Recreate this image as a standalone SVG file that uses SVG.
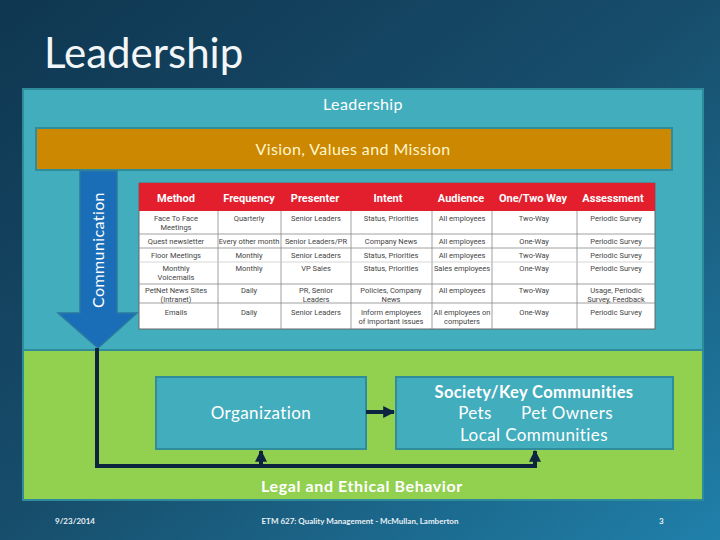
<svg xmlns="http://www.w3.org/2000/svg" width="720" height="540" viewBox="0 0 720 540">
<defs>
<linearGradient id="bg" x1="0" y1="0" x2="1" y2="1">
<stop offset="0" stop-color="#0f3650"/>
<stop offset="0.5" stop-color="#174e6c"/>
<stop offset="1" stop-color="#2080aa"/>
</linearGradient>
<marker id="ah" viewBox="0 0 10 10" refX="9" refY="5" markerWidth="3" markerHeight="3" orient="auto">
<path d="M0,0 L10,5 L0,10 z" fill="#0d2440"/>
</marker>
<style>
.t{font-family:Lato,"Open Sans","Liberation Sans",sans-serif;fill:#ffffff;text-anchor:middle;font-size:16px;letter-spacing:0.4px}
.hd{font-family:Roboto,"Liberation Sans",sans-serif;font-weight:bold;font-size:11px;fill:#ffffff;text-anchor:middle}
.cell{font-family:Roboto,"Liberation Sans",sans-serif;font-size:7.5px;fill:#444;text-anchor:middle}
.grid{stroke:#888;stroke-width:0.8}
.box{fill:#42adbd;stroke:#2f8c9a;stroke-width:2}
.conn{fill:none;stroke:#0d2440;stroke-width:4}
.ft{font-family:Lato,"Open Sans","Liberation Sans",sans-serif;font-weight:bold;font-size:8px;fill:#e8f0f4}
</style>
</defs>
<rect width="720" height="540" fill="url(#bg)"/>
<text x="44" y="68" font-family="Lato,'Open Sans','Liberation Sans',sans-serif" font-size="42" fill="#f2f6f8">Leadership</text>

<g id="leadership">
<rect x="23" y="89" width="680" height="262" fill="#42adbd" stroke="#2f8c9a" stroke-width="2"/>
<text class="t" x="363" y="110">Leadership</text>
</g>
<g id="legal">
<rect x="23" y="350" width="680" height="150" fill="#92d050" stroke="#2f8c9a" stroke-width="2"/>
<text class="t" x="362" y="492" font-weight="bold" style="letter-spacing:0.6px">Legal and Ethical Behavior</text>
</g>
<g id="vision">
<rect x="36" y="128" width="636" height="42" fill="#cc8800" stroke="#2f8c9a" stroke-width="2"/>
<text class="t" x="353" y="155" style="fill:#fff6cc">Vision, Values and Mission</text>
</g>
<g id="communication">
<path d="M80,171 L117,171 L117,313 L137,313 L98,348 L58,313 L80,313 Z" fill="#1a6eb8" stroke="#2a7aa0" stroke-width="1.5"/>
<text class="t" x="0" y="0" transform="translate(104,250) rotate(-90)">Communication</text>
</g>

<g id="table">
<rect x="139" y="183" width="516" height="146" fill="#ffffff" stroke="#666" stroke-width="1"/>
<rect x="139" y="183" width="516" height="28" fill="#e31e2d"/>
<g class="grid">
<line x1="218" y1="211" x2="218" y2="329"/>
<line x1="281" y1="211" x2="281" y2="329"/>
<line x1="351" y1="211" x2="351" y2="329"/>
<line x1="432" y1="211" x2="432" y2="329"/>
<line x1="492" y1="211" x2="492" y2="329"/>
<line x1="577" y1="211" x2="577" y2="329"/>
<line x1="139" y1="234" x2="655" y2="234"/>
<line x1="139" y1="248" x2="655" y2="248"/>
<line x1="139" y1="262" x2="655" y2="262" stroke="#ccc"/>
<line x1="139" y1="284" x2="655" y2="284"/>
<line x1="139" y1="303" x2="655" y2="303"/>
</g>
<text class="hd" x="176" y="202">Method</text>
<text class="hd" x="249" y="202">Frequency</text>
<text class="hd" x="315" y="202">Presenter</text>
<text class="hd" x="388" y="202">Intent</text>
<text class="hd" x="461" y="202">Audience</text>
<text class="hd" x="533" y="202">One/Two Way</text>
<text class="hd" x="613" y="202">Assessment</text>

<text class="cell" x="176" y="221">Face To Face</text>
<text class="cell" x="176" y="230">Meetings</text>
<text class="cell" x="249" y="221">Quarterly</text>
<text class="cell" x="316" y="221">Senior Leaders</text>
<text class="cell" x="391" y="221">Status, Priorities</text>
<text class="cell" x="462" y="221">All employees</text>
<text class="cell" x="534" y="221">Two-Way</text>
<text class="cell" x="616" y="221">Periodic Survey</text>

<text class="cell" x="176" y="244">Quest newsletter</text>
<text class="cell" x="249" y="244">Every other month</text>
<text class="cell" x="316" y="244">Senior Leaders/PR</text>
<text class="cell" x="391" y="244">Company News</text>
<text class="cell" x="462" y="244">All employees</text>
<text class="cell" x="534" y="244">One-Way</text>
<text class="cell" x="616" y="244">Periodic Survey</text>

<text class="cell" x="176" y="258">Floor Meetings</text>
<text class="cell" x="249" y="258">Monthly</text>
<text class="cell" x="316" y="258">Senior Leaders</text>
<text class="cell" x="391" y="258">Status, Priorities</text>
<text class="cell" x="462" y="258">All employees</text>
<text class="cell" x="534" y="258">Two-Way</text>
<text class="cell" x="616" y="258">Periodic Survey</text>

<text class="cell" x="176" y="271">Monthly</text>
<text class="cell" x="176" y="280">Voicemails</text>
<text class="cell" x="249" y="271">Monthly</text>
<text class="cell" x="316" y="271">VP Sales</text>
<text class="cell" x="391" y="271">Status, Priorities</text>
<text class="cell" x="462" y="271">Sales employees</text>
<text class="cell" x="534" y="271">One-Way</text>
<text class="cell" x="616" y="271">Periodic Survey</text>

<text class="cell" x="176" y="293">PetNet News Sites</text>
<text class="cell" x="176" y="302">(Intranet)</text>
<text class="cell" x="249" y="293">Daily</text>
<text class="cell" x="316" y="293">PR, Senior</text>
<text class="cell" x="316" y="302">Leaders</text>
<text class="cell" x="391" y="293">Policies, Company</text>
<text class="cell" x="391" y="302">News</text>
<text class="cell" x="462" y="293">All employees</text>
<text class="cell" x="534" y="293">Two-Way</text>
<text class="cell" x="616" y="293">Usage, Periodic</text>
<text class="cell" x="616" y="302">Survey, Feedback</text>

<text class="cell" x="176" y="315">Emails</text>
<text class="cell" x="249" y="315">Daily</text>
<text class="cell" x="316" y="315">Senior Leaders</text>
<text class="cell" x="391" y="315">Inform employees</text>
<text class="cell" x="391" y="324">of important issues</text>
<text class="cell" x="462" y="315">All employees on</text>
<text class="cell" x="462" y="324">computers</text>
<text class="cell" x="534" y="315">One-Way</text>
<text class="cell" x="616" y="315">Periodic Survey</text>
</g>

<g id="organization">
<rect class="box" x="156" y="377" width="210" height="72"/>
<text class="t" x="261" y="419" style="font-size:17px">Organization</text>
</g>
<g id="society">
<rect class="box" x="396" y="377" width="277" height="72"/>
<text class="t" x="534" y="398" font-weight="bold" style="font-size:16.5px">Society/Key Communities</text>
<text class="t" x="475" y="419" style="font-size:17px">Pets</text>
<text class="t" x="567" y="419" style="font-size:17px">Pet Owners</text>
<text class="t" x="534" y="441" style="font-size:17px">Local Communities</text>
</g>

<g id="connectors">
<line class="conn" x1="366" y1="412" x2="394" y2="412" marker-end="url(#ah)"/>
<polyline class="conn" points="97,348 97,466 535,466 535,451" marker-end="url(#ah)"/>
<line class="conn" x1="261" y1="466" x2="261" y2="451" marker-end="url(#ah)"/>
</g>

<text class="ft" x="55" y="524">9/23/2014</text>
<text class="ft" x="360" y="524" text-anchor="middle">ETM 627:  Quality Management - McMullan, Lamberton</text>
<text class="ft" x="659" y="524">3</text>
</svg>
